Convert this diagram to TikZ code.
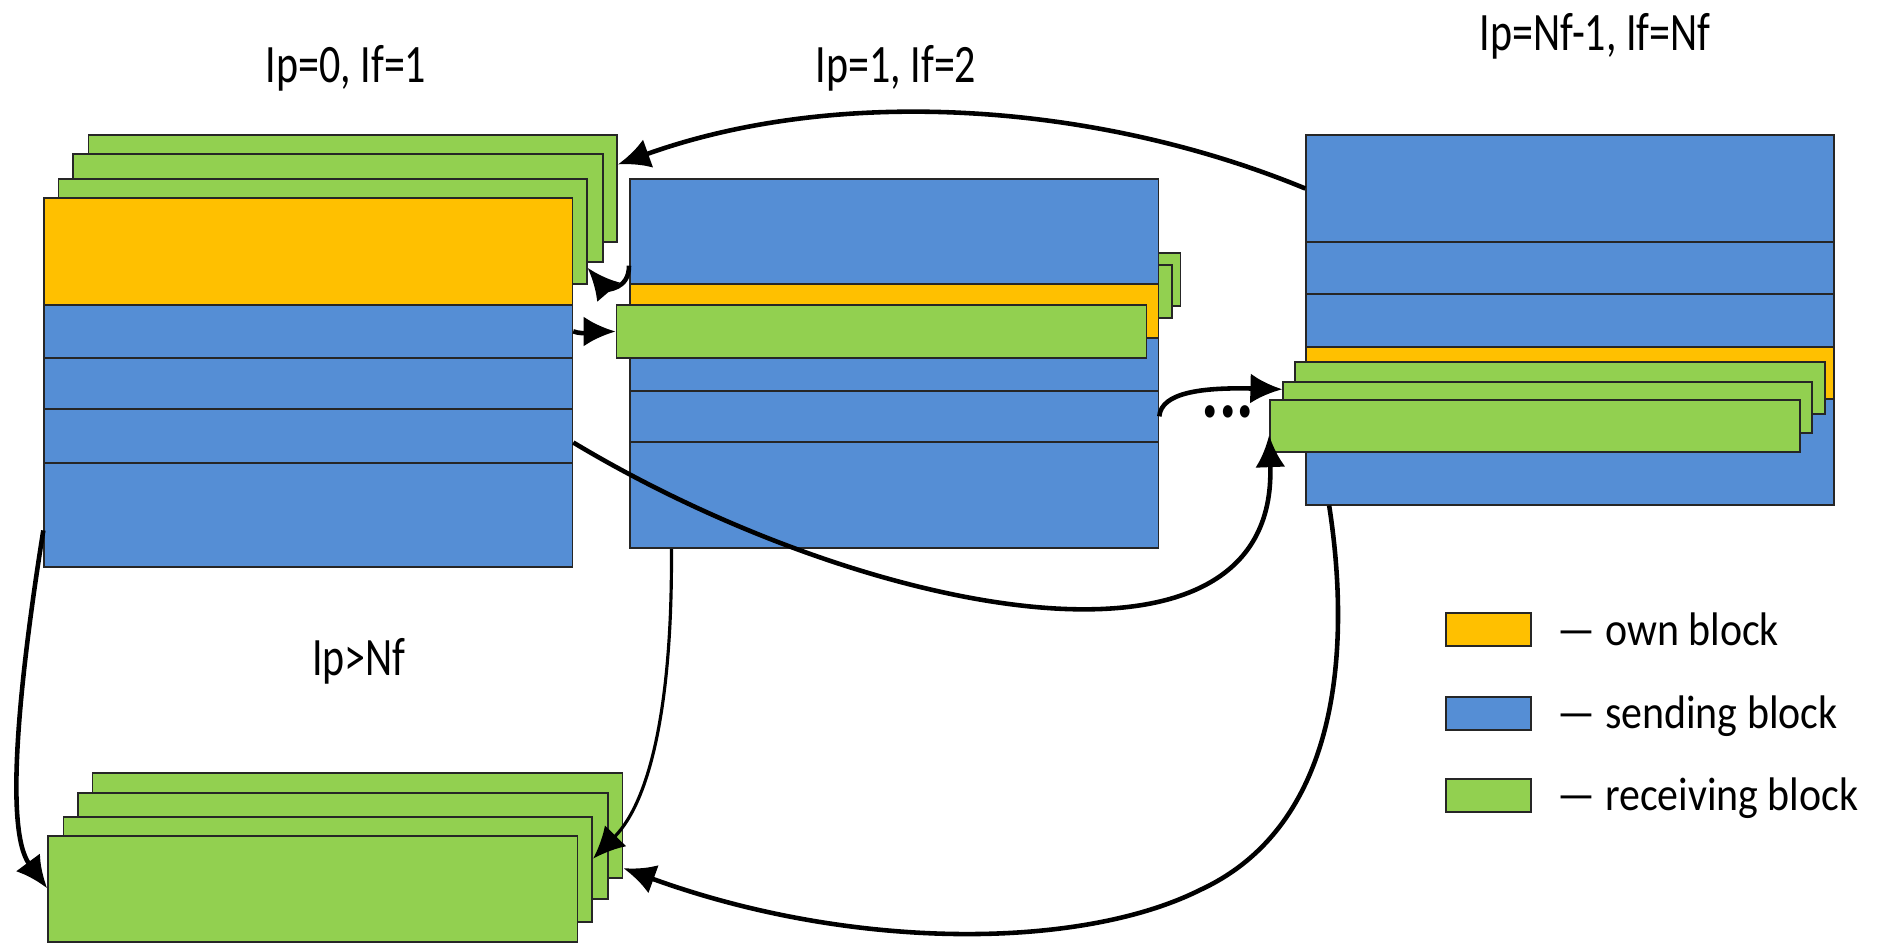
\documentclass[tikz,border=0pt]{standalone}
\usepackage{fontspec}
\usetikzlibrary{arrows.meta,fit,calc}
\newfontfamily\ttlfont[FakeStretch=0.776]{Carlito}
\newfontfamily\lgdfont[FakeStretch=0.89]{Carlito}
\definecolor{ownc}{HTML}{FFC000}
\definecolor{sendc}{HTML}{558ED5}
\definecolor{recvc}{HTML}{92D050}

\tikzstyle{blk}=[rectangle, draw=black!85, line width=0.5pt, inner sep=0pt]
\tikzstyle{link}=[draw, line width=1.3pt, -{Latex[length=3.2mm,width=3mm]}]
\tikzstyle{thin link}=[link, line width=0.9pt]
\tikzstyle{title}=[font=\ttlfont\fontsize{15.4pt}{18pt}\selectfont, inner sep=0pt, anchor=base]
\tikzstyle{lgd}=[font=\lgdfont\fontsize{13.4pt}{16pt}\selectfont, inner sep=0pt, anchor=base west]
\tikzstyle{dots}=[font=\ttlfont\bfseries\fontsize{24pt}{28pt}\selectfont, inner sep=0pt, anchor=base]

\begin{document}
\begin{tikzpicture}[x=0.1mm, y=-0.1mm]
	\useasboundingbox (0,0) rectangle (1879,943);
	% receiving blocks behind process 0
	\foreach \name/\xa/\ya/\xb/\yb in {b1g1/88.4/134.7/617/242.3, b1g2/72.8/154/602.7/261.7, b1g3/58.5/179/586.7/284}
		\node[blk, fill=recvc, fit={(\xa,\ya)(\xb,\yb)}] (\name) {};
	\foreach \name/\col/\ya/\yb in {b1own/ownc/198.3/305, b1s1/sendc/305/357.7, b1s2/sendc/357.7/409, b1s3/sendc/409/462.7, b1s4/sendc/462.7/567.3}
		\node[blk, fill=\col, fit={(44.2,\ya)(572.4,\yb)}] (\name) {};
	% process 1
	\foreach \name/\xb/\ya/\yb in {b2ga/1180.6/252.7/305.7, b2gb/1171.8/265/317.7}
		\node[blk, fill=recvc, fit={(700,\ya)(\xb,\yb)}] (\name) {};
	\foreach \name/\col/\ya/\yb in {b2s1/sendc/179/284, b2own/ownc/284/338.3, b2s2/sendc/338.3/390.7, b2s3/sendc/390.7/442, b2s4/sendc/442/548.3}
		\node[blk, fill=\col, fit={(629.9,\ya)(1158.4,\yb)}] (\name) {};
	\node[blk, fill=recvc, fit={(616.5,305)(1146.5,358)}] (b2rc) {};
	% process Nf-1
	\foreach \name/\col/\ya/\yb in {b3s1/sendc/134.7/242.3, b3s2/sendc/242.3/294, b3s3/sendc/294/347.3, b3own/ownc/347.3/399, b3s4/sendc/399/504.7}
		\node[blk, fill=\col, fit={(1306.2,\ya)(1834,\yb)}] (\name) {};
	\foreach \name/\xa/\ya/\xb/\yb in {b3g1/1295.3/361.7/1825.2/414, b3g2/1283.3/382.3/1812/433, b3g3/1270/400/1800/452}
		\node[blk, fill=recvc, fit={(\xa,\ya)(\xb,\yb)}] (\name) {};
	% processes above Nf
	\foreach \name/\xa/\ya/\xb/\yb in {bt1/92.6/773/622.5/878, bt2/78.3/792.7/607.7/899.3, bt3/63.6/817/592.2/921.7, bt4/48/836.3/577.4/942.3}
		\node[blk, fill=recvc, fit={(\xa,\ya)(\xb,\yb)}] (\name) {};

	\node[title] (t0) at (346,82) {Ip=0, If=1};
	\node[title] (t1) at (896,82) {Ip=1, If=2};
	\node[title] (tn) at (1595,50) {Ip=Nf-1, If=Nf};
	\node[title] (tg) at (359,675) {Ip>Nf};
	\node[dots] (gap) at (1228,417) {...};

	% legend
	\foreach \name/\col/\ya/\yb/\base/\txt in {own/ownc/612.7/646.3/645/own block, send/sendc/696.7/730.3/728/sending block, recv/recvc/778.7/812.3/810/receiving block}{
		\node[blk, fill=\col, fit={(1446,\ya)(1530.7,\yb)}] (lg\name) {};
		\node[lgd] (lgt\name) at (1557,\base) {— \txt};
	}

	% exchanges
	\coordinate (bend7) at (1200,890);
	\path[link] (b3s1.west) .. controls +(-206,-85) and +(223,-80) .. ($(b1g1.north east)!0.28!(b1g1.south east)$);
	\path[link] ($(b2s1.north west)!0.82!(b2s1.south west)$) .. controls +(0,25) and +(18,21) .. ($(b1g3.north east)!0.84!(b1g3.south east)$);
	\path[link] (b1s1.east) .. controls +(10,4) and +(-15,0) .. (b2rc.west);
	\path[link] (b2s3.east) .. controls +(2,-24) and +(-80,-2) .. ($(b3g2.north west)!0.15!(b3g2.south west)$);
	\path[link] ($(b1s3.north east)!0.62!(b1s3.south east)$) .. controls +(288,173) and +(10,265) .. ($(b3g3.north west)!0.67!(b3g3.south west)$);
	\path[thin link] ($(b2s4.south west)!0.08!(b2s4.south east)$) .. controls +(1,152) and +(58,-59) .. ($(bt3.north east)!0.4!(bt3.south east)$);
	\path[link] ($(b3s4.south west)!0.045!(b3s4.south east)$) .. controls +(18,115) and +(152,-70) .. (bend7) .. controls +(-120,60) and +(228,83) .. ($(bt1.north east)!0.9!(bt1.south east)$);
	\path[link] ($(b1s4.north west)!0.645!(b1s4.south west)$) .. controls +(-24,150) and +(-43,-58) .. ($(bt4.north west)!0.49!(bt4.south west)$);
\end{tikzpicture}
\end{document}
